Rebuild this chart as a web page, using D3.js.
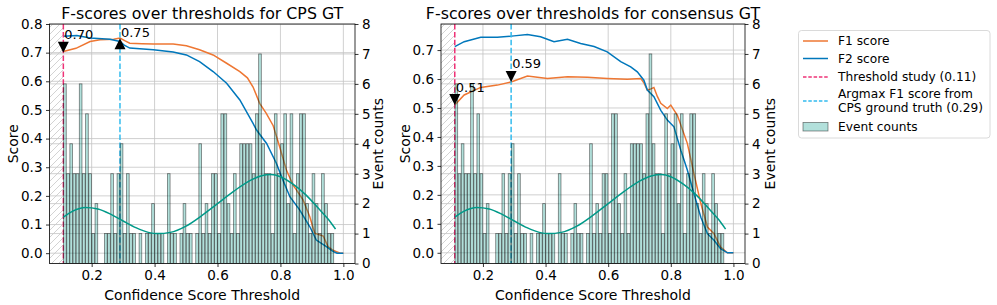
<!DOCTYPE html>
<html>
<head>
<meta charset="utf-8">
<script src="https://cdn.jsdelivr.net/npm/d3@7"></script>
<style>
  body { margin: 0; background: #fff; }
  svg { display: block; font-family: 'DejaVu Sans', sans-serif; }
</style>
</head>
<body>
<svg id="chart" width="997" height="305"></svg>
<script>
// ---- data ----
const xTicks = [0.2, 0.4, 0.6, 0.8, 1.0]
const countTicks = [0, 1, 2, 3, 4, 5, 6, 7, 8]

// event count histogram (bins of 0.01 starting at 0.11)
const binWidth = 0.01
const histCounts = [
  6, 3, 4, 3, 3, 6, 3, 5, 3, 1,
  2, 0, 0, 1, 1, 3, 1, 3, 4, 1,
  3, 1, 1, 0, 1, 0, 1, 1, 2, 1,
  1, 1, 0, 3, 1, 1, 0, 1, 2, 1,
  1, 0, 1, 4, 1, 2, 1, 3, 3, 1,
  5, 5, 2, 1, 3, 1, 4, 4, 4, 4,
  3, 5, 7, 4, 3, 3, 1, 5, 3, 4,
  5, 2, 5, 1, 3, 5, 5, 2, 1, 3,
  2, 1, 3, 2, 1, 1, 0
]
const histBins = histCounts.map((_, i) => +(0.11 + i * binWidth).toFixed(2))

// smoothed density of events, in count units
const kdeX = [0.11, 0.14, 0.18, 0.22, 0.26, 0.30, 0.34, 0.38, 0.41, 0.45, 0.50, 0.55, 0.60, 0.65, 0.70, 0.74, 0.77, 0.80, 0.84, 0.88, 0.92, 0.95, 0.975]
const kdeY = [1.55, 1.75, 1.87, 1.82, 1.65, 1.42, 1.20, 1.04, 1.00, 1.04, 1.25, 1.60, 2.00, 2.40, 2.75, 2.93, 2.97, 2.90, 2.65, 2.30, 1.85, 1.50, 1.15]

// CPS GT
const f1CpsX = [0.11, 0.15, 0.195, 0.227, 0.27, 0.29, 0.305, 0.321, 0.36, 0.396, 0.459, 0.501, 0.543, 0.586, 0.629, 0.671, 0.695, 0.713, 0.734, 0.755, 0.777, 0.798, 0.819, 0.84, 0.872, 0.893, 0.909, 0.936, 0.951, 0.967, 0.99, 1.00]
const f1CpsY = [0.704, 0.715, 0.739, 0.745, 0.747, 0.751, 0.742, 0.733, 0.731, 0.730, 0.730, 0.724, 0.710, 0.692, 0.663, 0.634, 0.612, 0.580, 0.523, 0.488, 0.445, 0.370, 0.290, 0.238, 0.186, 0.128, 0.070, 0.060, 0.023, 0.010, 0.0, 0.0]
const f2CpsX = [0.11, 0.153, 0.195, 0.258, 0.29, 0.305, 0.321, 0.396, 0.459, 0.501, 0.543, 0.586, 0.629, 0.671, 0.713, 0.724, 0.756, 0.787, 0.808, 0.83, 0.861, 0.893, 0.914, 0.946, 0.967, 0.98, 1.00]
const f2CpsY = [0.757, 0.760, 0.751, 0.747, 0.739, 0.725, 0.716, 0.710, 0.702, 0.692, 0.669, 0.634, 0.593, 0.535, 0.453, 0.430, 0.383, 0.314, 0.255, 0.197, 0.151, 0.093, 0.046, 0.023, 0.006, 0.0, 0.0]
const markCpsX = [0.11, 0.29]
const markCpsY = [0.70, 0.75]
const markCpsLabel = ['0.70', '0.75']
const markCpsDir = ['down', 'up']

// consensus GT
const f1ConsX = [0.11, 0.14, 0.193, 0.246, 0.29, 0.342, 0.406, 0.47, 0.534, 0.597, 0.661, 0.704, 0.715, 0.725, 0.735, 0.746, 0.757, 0.768, 0.789, 0.80, 0.821, 0.853, 0.874, 0.896, 0.917, 0.938, 0.959, 0.981, 1.00]
const f1ConsY = [0.510, 0.545, 0.571, 0.579, 0.590, 0.610, 0.602, 0.608, 0.606, 0.602, 0.599, 0.602, 0.585, 0.562, 0.565, 0.571, 0.540, 0.516, 0.498, 0.510, 0.475, 0.377, 0.273, 0.170, 0.089, 0.066, 0.020, 0.0, 0.0]
const f2ConsX = [0.11, 0.14, 0.193, 0.246, 0.299, 0.342, 0.384, 0.427, 0.47, 0.512, 0.555, 0.597, 0.64, 0.672, 0.693, 0.714, 0.725, 0.746, 0.768, 0.789, 0.81, 0.832, 0.853, 0.874, 0.896, 0.917, 0.938, 0.959, 0.981, 1.00]
const f2ConsY = [0.712, 0.729, 0.744, 0.744, 0.749, 0.754, 0.746, 0.729, 0.737, 0.723, 0.712, 0.694, 0.660, 0.642, 0.625, 0.596, 0.562, 0.539, 0.492, 0.458, 0.435, 0.354, 0.285, 0.204, 0.123, 0.066, 0.043, 0.014, 0.0, 0.0]
const markConsX = [0.11, 0.29]
const markConsY = [0.51, 0.59]
const markConsLabel = ['0.51', '0.59']
const markConsDir = ['down', 'down']

const thresholdStudy = 0.11
const thresholdArgmax = 0.29

// ---- style ----
const COLORS = {
  f1: '#EE7733',
  f2: '#0077BB',
  study: '#EE3377',
  argmax: '#33BBEE',
  bar: '#009988',
  kde: '#009988',
  grid: '#c4c4c4'
}
const FONT = "'DejaVu Sans', sans-serif"
const PLOT_TOP = 24
const PLOT_BOTTOM = 263.5
const xDomain = [0.066, 1.037]

const svg = d3.select('#chart')
const defs = svg.append('defs')

// hatch pattern for the excluded region
const hatch = defs.append('pattern')
  .attr('id', 'hatch')
  .attr('patternUnits', 'userSpaceOnUse')
  .attr('width', 7)
  .attr('height', 7)
hatch.append('path')
  .attr('d', 'M-1,1 l2,-2 M0,7 l7,-7 M6,8 l2,-2')
  .attr('stroke', '#c8c8c8')
  .attr('stroke-width', 0.8)

function zip(xs, ys) {
  return xs.map((v, i) => [v, ys[i]])
}

function drawPanel(p) {
  const x = d3.scaleLinear().domain(xDomain).range([p.left, p.right])
  const y = d3.scaleLinear().domain(p.yDomain).range([PLOT_BOTTOM, PLOT_TOP])
  const yc = d3.scaleLinear().domain([0, 8]).range([PLOT_BOTTOM, PLOT_TOP])

  const clipId = 'clip-' + p.id
  defs.append('clipPath').attr('id', clipId)
    .append('rect')
    .attr('x', p.left).attr('y', PLOT_TOP)
    .attr('width', p.right - p.left).attr('height', PLOT_BOTTOM - PLOT_TOP)

  const g = svg.append('g')
  const plot = g.append('g').attr('clip-path', `url(#${clipId})`)

  // grid
  plot.append('g').selectAll('line').data(xTicks).enter().append('line')
    .attr('x1', d => x(d)).attr('x2', d => x(d))
    .attr('y1', PLOT_TOP).attr('y2', PLOT_BOTTOM)
    .attr('stroke', COLORS.grid).attr('stroke-width', 0.8)
  plot.append('g').selectAll('line').data(p.yTicks).enter().append('line')
    .attr('x1', p.left).attr('x2', p.right)
    .attr('y1', d => y(d)).attr('y2', d => y(d))
    .attr('stroke', COLORS.grid).attr('stroke-width', 0.8)
  plot.append('g').selectAll('line').data(countTicks).enter().append('line')
    .attr('x1', p.left).attr('x2', p.right)
    .attr('y1', d => yc(d)).attr('y2', d => yc(d))
    .attr('stroke', COLORS.grid).attr('stroke-width', 0.8)

  // hatched region below the study threshold
  plot.append('rect')
    .attr('x', p.left).attr('y', PLOT_TOP)
    .attr('width', x(thresholdStudy) - p.left)
    .attr('height', PLOT_BOTTOM - PLOT_TOP)
    .attr('fill', 'url(#hatch)')

  // score lines
  const line = d3.line().x(d => x(d[0])).y(d => y(d[1]))
  plot.append('path').datum(zip(p.f1X, p.f1Y))
    .attr('d', line).attr('fill', 'none')
    .attr('stroke', COLORS.f1).attr('stroke-width', 1.5)
  plot.append('path').datum(zip(p.f2X, p.f2Y))
    .attr('d', line).attr('fill', 'none')
    .attr('stroke', COLORS.f2).attr('stroke-width', 1.5)

  // threshold markers
  plot.append('line')
    .attr('x1', x(thresholdStudy)).attr('x2', x(thresholdStudy))
    .attr('y1', PLOT_TOP).attr('y2', PLOT_BOTTOM)
    .attr('stroke', COLORS.study).attr('stroke-width', 1.5)
    .attr('stroke-dasharray', '5.5,2.4')
  plot.append('line')
    .attr('x1', x(thresholdArgmax)).attr('x2', x(thresholdArgmax))
    .attr('y1', PLOT_TOP).attr('y2', PLOT_BOTTOM)
    .attr('stroke', COLORS.argmax).attr('stroke-width', 1.5)
    .attr('stroke-dasharray', '5.5,2.4')

  // histogram (twin axis)
  const barW = 0.0085
  plot.append('g').selectAll('rect').data(histBins).enter().append('rect')
    .attr('x', (d) => x(d + (binWidth - barW) / 2))
    .attr('width', x(barW) - x(0))
    .attr('y', (d, i) => yc(histCounts[i]))
    .attr('height', (d, i) => yc(0) - yc(histCounts[i]))
    .attr('fill', COLORS.bar).attr('fill-opacity', 0.3)
    .attr('stroke', '#000').attr('stroke-opacity', 0.5).attr('stroke-width', 0.8)

  // density curve
  plot.append('path').datum(zip(kdeX, kdeY))
    .attr('d', d3.line().x(d => x(d[0])).y(d => yc(d[1])).curve(d3.curveMonotoneX))
    .attr('fill', 'none').attr('stroke', COLORS.kde).attr('stroke-width', 1.5)

  // annotated points
  const tri = 11
  p.markX.forEach((mx, i) => {
    const px = x(mx), py = y(p.markY[i])
    const down = p.markDir[i] === 'down'
    const path = down
      ? `M${px - tri / 2},${py - tri} L${px + tri / 2},${py - tri} L${px},${py} Z`
      : `M${px - tri / 2},${py + tri} L${px + tri / 2},${py + tri} L${px},${py} Z`
    g.append('path').attr('d', path).attr('fill', '#000')
    g.append('text')
      .attr('x', px + 1)
      .attr('y', down ? py - 13.5 : py - 1)
      .attr('font-size', 13).attr('font-family', FONT)
      .text(p.markLabel[i])
  })

  // axes
  const axB = g.append('g').attr('transform', `translate(0,${PLOT_BOTTOM})`)
    .call(d3.axisBottom(x).tickValues(xTicks).tickFormat(d3.format('.1f')).tickSize(3.5).tickPadding(3.5).tickSizeOuter(0))
  const axL = g.append('g').attr('transform', `translate(${p.left},0)`)
    .call(d3.axisLeft(y).tickValues(p.yTicks).tickFormat(d3.format('.1f')).tickSize(3.5).tickPadding(3.5).tickSizeOuter(0))
  const axR = g.append('g').attr('transform', `translate(${p.right},0)`)
    .call(d3.axisRight(yc).tickValues(countTicks).tickFormat(d3.format('d')).tickSize(3.5).tickPadding(3.5).tickSizeOuter(0))
  ;[axB, axL, axR].forEach(a => {
    a.select('.domain').remove()
    a.selectAll('text').attr('font-size', 13.5).attr('font-family', FONT).attr('fill', '#000')
    a.selectAll('line').attr('stroke', '#000').attr('stroke-width', 0.8)
  })

  // spines
  g.append('rect')
    .attr('x', p.left).attr('y', PLOT_TOP)
    .attr('width', p.right - p.left).attr('height', PLOT_BOTTOM - PLOT_TOP)
    .attr('fill', 'none').attr('stroke', '#000').attr('stroke-width', 0.8)

  // labels
  const cx = (p.left + p.right) / 2
  const cy = (PLOT_TOP + PLOT_BOTTOM) / 2
  g.append('text').attr('x', cx).attr('y', 19)
    .attr('text-anchor', 'middle').attr('font-size', 15.8).attr('font-family', FONT)
    .text(p.title)
  g.append('text').attr('x', cx).attr('y', 300)
    .attr('text-anchor', 'middle').attr('font-size', 14).attr('font-family', FONT)
    .text('Confidence Score Threshold')
  g.append('text')
    .attr('transform', `translate(${p.scoreLabelX},${cy}) rotate(-90)`)
    .attr('text-anchor', 'middle').attr('dominant-baseline', 'central')
    .attr('font-size', 14).attr('font-family', FONT)
    .text('Score')
  g.append('text')
    .attr('transform', `translate(${p.countLabelX},${cy}) rotate(-90)`)
    .attr('text-anchor', 'middle').attr('dominant-baseline', 'central')
    .attr('font-size', 14).attr('font-family', FONT)
    .text('Event counts')
}

drawPanel({
  id: 'cps', left: 49.5, right: 355, yDomain: [-0.036, 0.80],
  yTicks: [0, 0.1, 0.2, 0.3, 0.4, 0.5, 0.6, 0.7, 0.8],
  title: 'F-scores over thresholds for CPS GT',
  f1X: f1CpsX, f1Y: f1CpsY, f2X: f2CpsX, f2Y: f2CpsY,
  markX: markCpsX, markY: markCpsY, markLabel: markCpsLabel, markDir: markCpsDir,
  scoreLabelX: 13, countLabelX: 378
})
drawPanel({
  id: 'cons', left: 441, right: 745, yDomain: [-0.037, 0.79],
  yTicks: [0, 0.1, 0.2, 0.3, 0.4, 0.5, 0.6, 0.7],
  title: 'F-scores over thresholds for consensus GT',
  f1X: f1ConsX, f1Y: f1ConsY, f2X: f2ConsX, f2Y: f2ConsY,
  markX: markConsX, markY: markConsY, markLabel: markConsLabel, markDir: markConsDir,
  scoreLabelX: 405, countLabelX: 770
})

// ---- legend ----
const legend = svg.append('g')
legend.append('rect')
  .attr('x', 798.5).attr('y', 30.5).attr('width', 191.5).attr('height', 107.5)
  .attr('rx', 3).attr('fill', '#fff').attr('stroke', '#d0d0d0').attr('stroke-width', 0.8)
const legendItems = [
  { type: 'line', color: COLORS.f1, dash: null, lines: ['F1 score'], y: 41 },
  { type: 'line', color: COLORS.f2, dash: null, lines: ['F2 score'], y: 58.5 },
  { type: 'line', color: COLORS.study, dash: '3.5,1.8', lines: ['Threshold study (0.11)'], y: 77 },
  { type: 'line', color: COLORS.argmax, dash: '3.5,1.8', lines: ['Argmax F1 score from', 'CPS ground truth (0.29)'], y: 101 },
  { type: 'patch', color: COLORS.bar, lines: ['Event counts'], y: 126.5 }
]
legendItems.forEach(it => {
  if (it.type === 'line') {
    legend.append('line')
      .attr('x1', 803).attr('x2', 828).attr('y1', it.y).attr('y2', it.y)
      .attr('stroke', it.color).attr('stroke-width', 1.5)
      .attr('stroke-dasharray', it.dash)
  } else {
    legend.append('rect')
      .attr('x', 803).attr('y', it.y - 4).attr('width', 25).attr('height', 8.5)
      .attr('fill', it.color).attr('fill-opacity', 0.3)
      .attr('stroke', '#000').attr('stroke-opacity', 0.5).attr('stroke-width', 0.8)
  }
  const n = it.lines.length
  it.lines.forEach((t, k) => {
    legend.append('text')
      .attr('x', 838)
      .attr('y', it.y + (k - (n - 1) / 2) * 14.3)
      .attr('dominant-baseline', 'central')
      .attr('font-size', 12.2).attr('font-family', FONT)
      .text(t)
  })
})
</script>
</body>
</html>
